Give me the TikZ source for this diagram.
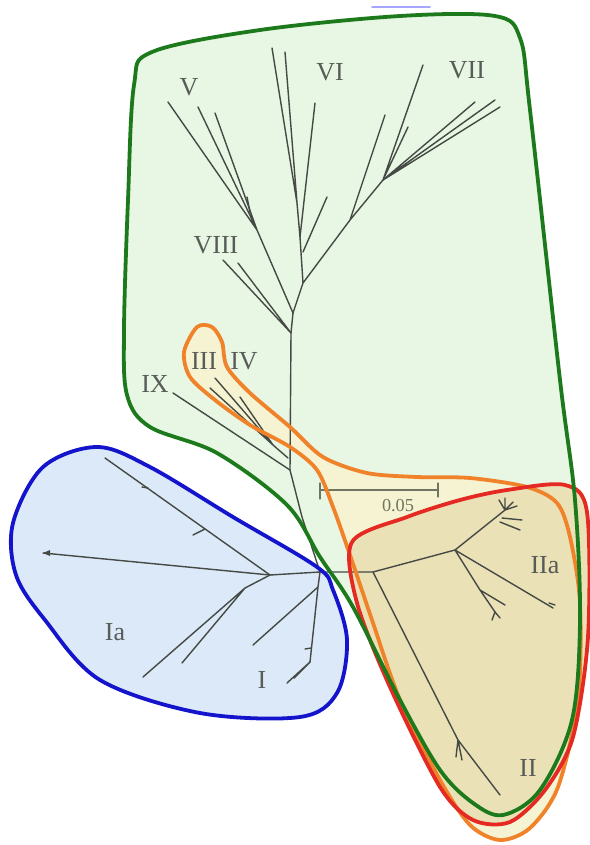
\documentclass[tikz,border=0pt]{standalone}
\usepackage{fontspec}
\setmainfont{Liberation Serif}
\definecolor{figG}{HTML}{1C7A1C}
\definecolor{figGf}{HTML}{E8F6E4}
\definecolor{figB}{HTML}{1414CC}
\definecolor{figBf}{HTML}{DCE9F8}
\definecolor{figO}{HTML}{F0822A}
\definecolor{figOf}{HTML}{F5F3D2}
\definecolor{figR}{HTML}{E42A22}
\definecolor{figRf}{HTML}{EBE1B7}
\definecolor{figT}{HTML}{454A45}
\definecolor{figS}{HTML}{6E7560}

\tikzset{
  branch/.style={figT,line width=2pt},
  rim/.style={line width=5.4pt},
  clade/.style={text=figT!90,font=\fontsize{37}{40}\selectfont,inner sep=0pt}
}

\begin{document}
\begin{tikzpicture}[x=0.05cm,y=-0.05cm,line join=round,line cap=round]
\useasboundingbox (0,0) rectangle (589,845);

% regions
\fill[figGf] plot[smooth cycle,tension=0.55] coordinates {(152,52) (260,30) (400,16) (495,16) (520,38) (530,110) (560,380) (575,500) (580,620) (572,720) (540,790) (503,815) (473,803) (440,770) (400,700) (353,607) (320,557) (287,505) (217,453) (150,427) (127,395) (124,330) (128,200) (134,85)};
\fill[figBf] plot[smooth cycle,tension=0.55] coordinates {(97,447) (43,467) (13,523) (16,575) (45,620) (100,680) (200,713) (300,717) (337,693) (347,640) (333,590) (317,567) (233,517) (150,467)};
\fill[figOf] plot[smooth cycle,tension=0.5] coordinates {(197,327) (212,327) (222,342) (227,367) (250,393) (290,427) (323,457) (367,473) (417,477) (470,478) (527,487) (557,503) (570,537) (580,603) (578,700) (558,787) (530,828) (500,840) (470,825) (440,780) (400,700) (372,620) (350,555) (333,507) (317,470) (290,447) (250,425) (215,400) (190,377) (184,352)};
\fill[figRf] plot[smooth cycle,tension=0.5] coordinates {(352,542) (407,517) (460,500) (507,490) (565,485) (587,512) (588,637) (573,737) (545,790) (510,822) (473,820) (440,787) (390,687) (357,603)};

% tree
\coordinate (c) at (320,572);
\coordinate (ia) at (270,575);
\coordinate (ia1) at (43,553);
\coordinate (ia2) at (105,458);
\coordinate (ia3) at (245,588);
\coordinate (ia4) at (143,677);
\coordinate (ia5) at (182,663);
\coordinate (i0) at (318,587);
\coordinate (i1) at (253,645);
\coordinate (i2) at (310,662);
\coordinate (i3) at (287,683);
\coordinate (i4) at (294,678);
\coordinate (t0) at (290,470);
\coordinate (t1) at (291,333);
\coordinate (t2) at (293,313);
\coordinate (t3) at (303,283);
\coordinate (iii0) at (288,458);
\coordinate (iii1) at (273,445);
\coordinate (ix) at (173,393);
\coordinate (viii1) at (223,260);
\coordinate (viii2) at (238,263);
\coordinate (v0) at (257,230);
\coordinate (vi0) at (300,237);
\coordinate (vi1) at (297,203);
\coordinate (vii0) at (350,220);
\coordinate (vii1) at (383,180);
\coordinate (iia0) at (373,572);
\coordinate (iia1) at (455,550);
\coordinate (iia2) at (505,510);
\coordinate (iia3) at (480,590);
\coordinate (ii0) at (458,740);
\coordinate (ii) at (500,795);

\draw[branch] (t2) -- (t1) -- (t0) -- (302,517) -- (c);
\draw[branch] (c) -- (ia) -- (ia1);
\draw[branch] (ia) -- (ia2);
\draw[branch] (148,488) -- ++(-6,-1) (205,529) -- ++(-12,6);
\draw[branch] (ia) -- (ia3) -- (ia4) (ia3) -- (ia5);
\draw[branch] (c) -- (i0) -- (i2) (i0) -- (i1);
\draw[branch] (i2) -- (i3) (i2) -- (i4) (311,648) -- ++(-6,1);
\fill[figT] (ia1) -- ++(7,-3) -- ++(0,6) -- cycle;
% III IV IX
\draw[branch] (t0) -- (ix);
\draw[branch] (iii0) -- (iii1) -- (210,388) (iii1) -- (215,378) (iii1) -- (240,397);
% VIII, V
\draw[branch] (t1) -- (viii1) (t1) -- (viii2);
\draw[branch] (t2) -- (v0) -- (168,102) (v0) -- (198,107) (v0) -- (215,113);
\draw[branch] (250,212) -- (247,197);
% VI
\draw[branch] (t2) -- (t3) -- (vi0) -- (vi1) -- (272,48) (vi1) -- (285,52);
\draw[branch] (vi0) -- (315,103);
\draw[branch] (303,252) -- (327,197);
% VII
\draw[branch] (t3) -- (vii0) -- (vii1) -- (423,65) (vii0) -- (385,115) (vii1) -- (408,127);
\draw[branch] (vii1) -- (475,102) (vii1) -- (495,100) (vii1) -- (500,107);
% IIa, II
\draw[branch] (c) -- (iia0) -- (iia1) -- (iia2);
\draw[branch] (iia2) -- ++(-6,-10) (iia2) -- ++(0,-12) (iia2) -- ++(8,-8) (iia2) -- ++(12,-4);
\draw[branch] (502,518) -- (522,520) (500,522) -- (520,530);
\draw[branch] (iia1) -- (553,608) (iia1) -- (iia3) -- (505,605) (iia3) -- (495,612);
\draw[branch] (495,612) -- ++(-3,8) (495,612) -- ++(5,6);
\draw[branch] (iia0) -- (ii0) -- (ii) (ii0) -- (462,760) (ii0) -- (456,757);
\draw[branch] (549,603) -- ++(6,2);

% scale bar
\draw[figS,line width=1.6pt] (320,490) -- (438,490) (320,483) -- (320,499) (438,483) -- (438,497);
\node[text=figS,font=\fontsize{26}{28}\selectfont,inner sep=0pt] (bar) at (398,506) {0.05};

% outlines
\draw[figO,rim] plot[smooth cycle,tension=0.5] coordinates {(197,327) (212,327) (222,342) (227,367) (250,393) (290,427) (323,457) (367,473) (417,477) (470,478) (527,487) (557,503) (570,537) (580,603) (578,700) (558,787) (530,828) (500,840) (470,825) (440,780) (400,700) (372,620) (350,555) (333,507) (317,470) (290,447) (250,425) (215,400) (190,377) (184,352)};
\draw[figR,rim] plot[smooth cycle,tension=0.5] coordinates {(352,542) (407,517) (460,500) (507,490) (565,485) (587,512) (588,637) (573,737) (545,790) (510,822) (473,820) (440,787) (390,687) (357,603)};
\draw[figG,rim] plot[smooth cycle,tension=0.55] coordinates {(152,52) (260,30) (400,16) (495,16) (520,38) (530,110) (560,380) (575,500) (580,620) (572,720) (540,790) (503,815) (473,803) (440,770) (400,700) (353,607) (320,557) (287,505) (217,453) (150,427) (127,395) (124,330) (128,200) (134,85)};
\draw[figB,rim] plot[smooth cycle,tension=0.55] coordinates {(97,447) (43,467) (13,523) (16,575) (45,620) (100,680) (200,713) (300,717) (337,693) (347,640) (333,590) (317,567) (233,517) (150,467)};
\draw[line width=2.5pt,blue!35] (372,7) -- (430,7);

% labels
\node[clade] (lV) at (189,87) {V};
\node[clade] (lVI) at (330,72) {VI};
\node[clade] (lVII) at (467,70) {VII};
\node[clade] (lVIII) at (216,245) {VIII};
\node[clade] (lIX) at (155,384) {IX};
\node[clade] (lIII) at (204,361) {III};
\node[clade] (lIV) at (244,361) {IV};
\node[clade] (lIa) at (115,632) {Ia};
\node[clade] (lI) at (262,680) {I};
\node[clade] (lIIa) at (545,565) {IIa};
\node[clade] (lII) at (528,768) {II};
\end{tikzpicture}
\end{document}
